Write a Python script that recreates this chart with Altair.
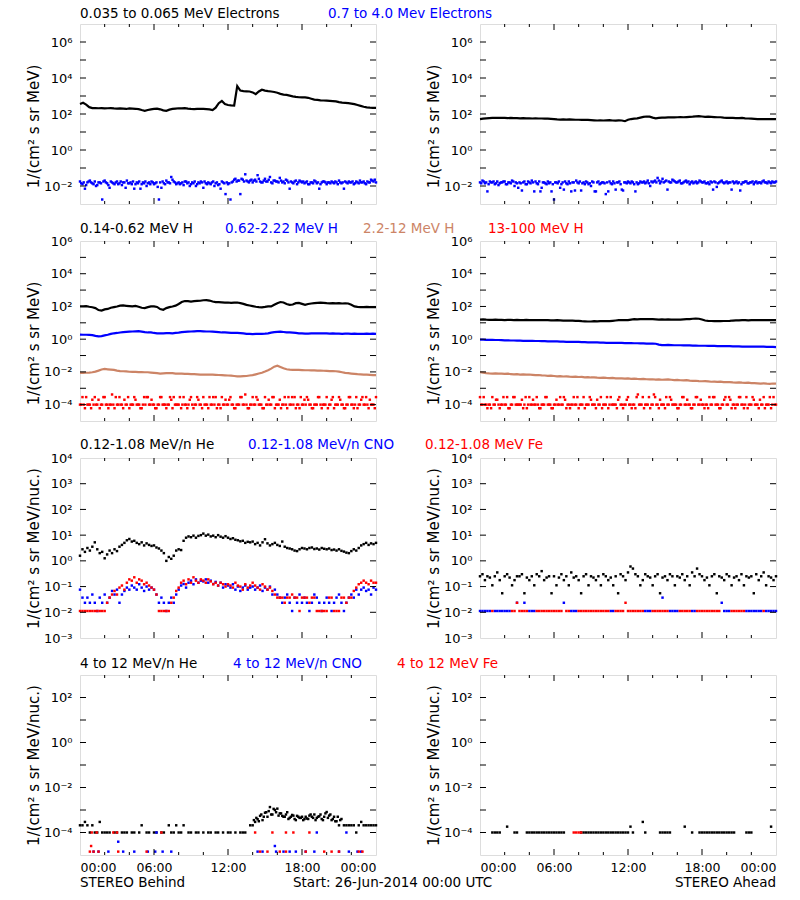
import altair as alt
import pandas as pd

FONT = "DejaVu Sans"
BLACK, BLUE, RED, BROWN = "#000000", "#0000FF", "#FF0000", "#CC8466"
W, H = 296, 180

T15 = [i * 0.25 for i in range(97)]
T20 = [round(i * 0.2, 2) for i in range(121)]
T20B = [round(0.1 + i * 0.2, 2) for i in range(120)]

# ---------------- Row 1 : electrons (log10 values) ----------------
A_black = [2.55, 2.62, 2.52, 2.38, 2.33, 2.33, 2.32, 2.33, 2.31, 2.32, 2.33, 2.31,
           2.3, 2.31, 2.3, 2.28, 2.31, 2.3, 2.29, 2.27, 2.22, 2.18, 2.22, 2.26,
           2.28, 2.3, 2.26, 2.2, 2.18, 2.24, 2.28, 2.3, 2.32, 2.31, 2.33, 2.3,
           2.28, 2.27, 2.28, 2.29, 2.28, 2.27, 2.26, 2.22, 2.35, 2.6, 2.72, 2.55,
           2.5, 2.48, 2.47, 3.55, 3.3, 3.27, 3.26, 3.25, 3.2, 3.1, 3.25, 3.35,
           3.3, 3.27, 3.25, 3.22, 3.18, 3.12, 3.08, 3.06, 3.02, 2.98, 2.95, 2.93,
           2.92, 2.92, 2.9, 2.85, 2.8, 2.78, 2.76, 2.75, 2.74, 2.73, 2.72, 2.7,
           2.66, 2.63, 2.62, 2.6, 2.58, 2.55, 2.5, 2.45, 2.4, 2.37, 2.35, 2.34, 2.34]
A_blue = [-1.75, -1.9, -2.15, -1.8, -1.7, -1.85, -1.75, -1.95, -1.8, -2.75,
          -1.7, -1.85, -2.1, -1.8, -1.9, -1.75, -1.85, -1.95, -1.8, -1.7,
          -1.85, -1.9, -2.15, -1.8, -1.75, -1.9, -1.85, -2.0, -1.8, -1.75,
          -1.9, -1.8, -2.75, -2.1, -1.85, -1.7, -1.8, -1.5, -1.75, -1.9,
          -1.8, -1.85, -1.95, -1.75, -1.8, -1.9, -1.85, -2.0, -1.8, -1.75,
          -2.1, -1.85, -1.8, -1.9, -1.75, -1.85, -1.95, -2.15, -1.8, -2.45,
          -1.9, -2.75, -1.75, -1.6, -1.7, -2.45, -1.65, -1.35, -1.75, -1.7,
          -1.8, -1.65, -1.4, -1.75, -1.8, -1.6, -1.75, -1.5, -1.85, -1.7,
          -1.75, -1.55, -1.8, -1.85, -1.7, -2.15, -1.8, -1.75, -1.9, -1.7,
          -1.8, -1.85, -1.75, -1.9, -1.8, -1.7, -1.85, -2.15, -1.8, -1.75,
          -1.9, -1.8, -1.75, -1.85, -1.8, -1.7, -1.85, -2.15, -1.8, -1.75,
          -1.8, -1.9, -1.75, -1.85, -1.8, -1.75, -1.9, -1.8, -1.65, -1.75, -1.8]
A_blue2 = [-1.85, -1.8, -1.95, -1.75, -1.8, -1.9, -2.0, -1.8, -1.85, -1.75,
           -1.8, -1.95, -1.75, -1.85, -1.8, -1.9, -1.75, -1.8, -2.1, -1.85,
           -1.8, -1.75, -1.9, -1.85, -2.15, -1.8, -1.75, -1.85, -1.9, -1.8,
           -1.85, -2.05, -1.8, -1.75, -1.9, -1.8, -1.85, -1.65, -1.8, -1.85,
           -1.9, -1.8, -1.75, -1.85, -2.0, -1.8, -1.75, -1.9, -1.85, -1.8,
           -1.75, -1.9, -1.85, -1.8, -2.0, -1.8, -1.9, -1.75, -1.85, -1.8,
           -1.85, -1.8, -1.65, -1.75, -1.7, -1.6, -1.75, -1.7, -1.8, -1.65,
           -1.7, -1.75, -1.6, -1.8, -1.7, -1.75, -1.65, -1.8, -1.7, -1.75,
           -1.8, -1.7, -1.75, -1.65, -1.8, -1.75, -1.85, -1.7, -1.8, -1.75,
           -1.75, -1.8, -1.9, -1.8, -1.85, -1.75, -1.8, -1.9, -1.75, -1.8,
           -1.8, -1.85, -1.8, -1.75, -1.9, -1.8, -1.8, -1.75, -1.85, -1.8,
           -1.75, -1.85, -1.8, -1.7, -1.8, -1.85, -1.75, -1.8, -1.7, -1.65]
B_black = [1.72, 1.74, 1.76, 1.77, 1.78, 1.79, 1.78, 1.79, 1.78, 1.77, 1.78, 1.77,
           1.77, 1.76, 1.77, 1.76, 1.76, 1.75, 1.76, 1.75, 1.75, 1.74, 1.74, 1.73,
           1.72, 1.7, 1.69, 1.7, 1.69, 1.7, 1.69, 1.68, 1.68, 1.67, 1.68, 1.67,
           1.66, 1.65, 1.64, 1.65, 1.64, 1.65, 1.66, 1.64, 1.63, 1.65, 1.64, 1.6,
           1.68, 1.72, 1.74, 1.76, 1.8, 1.84, 1.86, 1.85, 1.8, 1.76, 1.78, 1.8,
           1.8, 1.81, 1.82, 1.81, 1.82, 1.83, 1.82, 1.83, 1.84, 1.85, 1.87, 1.88,
           1.86, 1.84, 1.85, 1.84, 1.83, 1.82, 1.82, 1.8, 1.79, 1.78, 1.78, 1.77,
           1.77, 1.78, 1.76, 1.75, 1.74, 1.73, 1.72, 1.72, 1.71, 1.72, 1.71, 1.72, 1.71]
B_blue = [-1.8, -1.7, -1.85, -2.3, -1.75, -1.8, -1.9, -1.75, -1.85, -1.8,
          -1.75, -1.9, -1.8, -1.7, -2.0, -1.85, -1.8, -2.25, -1.75, -1.9,
          -1.8, -1.7, -2.3, -1.85, -1.75, -2.1, -1.8, -1.9, -1.85, -2.3,
          -2.75, -1.8, -1.75, -1.9, -2.2, -1.85, -1.75, -2.3, -1.8, -1.7,
          -1.85, -2.25, -1.8, -1.75, -1.9, -2.0, -1.8, -2.3, -1.75, -1.85,
          -1.8, -2.45, -2.3, -1.85, -1.75, -2.2, -1.8, -1.9, -2.25, -1.8,
          -1.75, -1.85, -1.8, -2.3, -1.9, -1.75, -1.8, -1.85, -1.7, -2.0,
          -1.8, -1.7, -1.55, -1.85, -1.6, -1.75, -2.2, -1.8, -1.65, -1.75,
          -1.8, -1.7, -1.85, -1.75, -1.8, -1.9, -1.75, -1.8, -1.85, -1.7,
          -1.8, -1.75, -1.85, -1.9, -1.8, -1.75, -2.05, -1.8, -1.7, -1.85,
          -1.75, -1.8, -2.2, -1.85, -1.75, -1.8, -1.9, -1.8, -1.75, -1.85,
          -1.8, -1.9, -1.75, -1.8, -1.85, -1.7, -1.8, -1.75, -1.85, -1.8, -1.75]
B_blue2 = [-1.85, -1.75, -1.8, -1.9, -1.8, -1.75, -1.85, -1.95, -1.8, -1.75,
           -1.9, -1.8, -1.85, -1.75, -1.8, -2.1, -1.85, -1.8, -1.9, -1.75,
           -1.85, -1.8, -1.75, -1.9, -2.3, -1.8, -1.85, -1.75, -1.8, -1.9,
           -1.8, -1.85, -2.1, -1.8, -1.75, -1.9, -1.85, -1.8, -2.25, -1.8,
           -1.75, -1.85, -1.9, -1.8, -1.85, -1.75, -2.3, -1.8, -1.9, -1.8,
           -1.85, -1.8, -1.75, -1.9, -1.85, -1.8, -1.75, -2.2, -1.8, -1.85,
           -1.8, -1.75, -1.9, -1.8, -1.85, -1.8, -1.75, -1.8, -1.85, -1.75,
           -1.75, -1.8, -1.7, -1.75, -1.8, -1.7, -1.75, -1.8, -1.7, -1.8,
           -1.75, -1.85, -1.8, -1.7, -1.75, -1.8, -1.85, -1.75, -1.8, -1.75,
           -1.8, -1.85, -1.8, -1.75, -2.2, -1.8, -1.85, -1.75, -1.8, -1.8,
           -1.85, -1.8, -1.75, -1.8, -1.85, -2.25, -1.8, -1.75, -1.85, -1.8,
           -1.75, -1.8, -1.85, -1.8, -1.75, -1.8, -1.85, -1.8, -1.75, -1.8]

# ---------------- Row 2 : protons ----------------
C_black = [2.0, 2.01, 2.02, 1.98, 1.95, 1.9, 1.78, 1.75, 1.82, 1.85, 1.92, 1.96,
           2.0, 2.05, 2.06, 2.04, 2.02, 2.0, 2.03, 1.98, 1.92, 1.9, 1.96, 2.0,
           2.0, 1.97, 1.84, 1.8, 1.9, 1.96, 2.0, 2.05, 2.15, 2.27, 2.33, 2.32,
           2.3, 2.32, 2.34, 2.35, 2.38, 2.39, 2.36, 2.3, 2.27, 2.26, 2.25, 2.24,
           2.24, 2.22, 2.23, 2.24, 2.2, 2.16, 2.1, 2.06, 2.02, 1.98, 1.96, 1.95,
           1.97, 2.0, 2.0, 2.1, 2.2, 2.27, 2.24, 2.15, 2.1, 2.12, 2.2, 2.22,
           2.16, 2.1, 2.15, 2.18, 2.2, 2.22, 2.23, 2.22, 2.2, 2.19, 2.2, 2.19,
           2.2, 2.18, 2.19, 2.18, 2.1, 2.0, 1.97, 1.96, 1.96, 1.97, 1.96, 1.96, 1.96]
C_blue = [0.28, 0.27, 0.27, 0.26, 0.25, 0.2, 0.17, 0.19, 0.23, 0.27, 0.32, 0.36,
          0.38, 0.41, 0.43, 0.45, 0.46, 0.47, 0.48, 0.49, 0.46, 0.43, 0.41, 0.41,
          0.38, 0.36, 0.35, 0.36, 0.37, 0.37, 0.36, 0.38, 0.4, 0.43, 0.45, 0.46,
          0.47, 0.48, 0.49, 0.49, 0.48, 0.47, 0.47, 0.46, 0.45, 0.43, 0.41, 0.41,
          0.4, 0.39, 0.39, 0.38, 0.37, 0.35, 0.33, 0.32, 0.31, 0.32, 0.33, 0.33,
          0.34, 0.36, 0.4, 0.43, 0.45, 0.46, 0.44, 0.42, 0.41, 0.4, 0.38, 0.36,
          0.35, 0.34, 0.34, 0.35, 0.35, 0.36, 0.35, 0.35, 0.35, 0.34, 0.35, 0.34,
          0.34, 0.33, 0.34, 0.34, 0.33, 0.34, 0.33, 0.33, 0.33, 0.34, 0.33, 0.34, 0.33]
C_brown = [-2.06, -2.06, -2.05, -2.04, -2.02, -1.98, -1.92, -1.85, -1.82, -1.84, -1.86, -1.88,
           -1.92, -1.95, -1.96, -1.97, -1.99, -2.0, -2.0, -2.01, -2.01, -2.02, -2.02, -2.04,
           -2.06, -2.08, -2.1, -2.09, -2.08, -2.07, -2.08, -2.1, -2.1, -2.11, -2.12, -2.12,
           -2.13, -2.14, -2.15, -2.16, -2.16, -2.17, -2.16, -2.17, -2.18, -2.19, -2.2, -2.21,
           -2.22, -2.23, -2.25, -2.27, -2.27, -2.26, -2.25, -2.22, -2.2, -2.15, -2.1, -2.05,
           -1.98, -1.9, -1.8, -1.68, -1.62, -1.7, -1.78, -1.84, -1.86, -1.87, -1.88, -1.88,
           -1.89, -1.9, -1.9, -1.91, -1.91, -1.92, -1.92, -1.93, -1.94, -1.95, -1.95, -1.96,
           -1.98, -2.02, -2.06, -2.08, -2.1, -2.12, -2.14, -2.15, -2.16, -2.17, -2.18, -2.2, -2.2]
C_red = [-4, -3.54, -4.22, -4, -4, -3.7, -3.54, -4, -4.22, -4,
         -3.54, -4, -4, -3.38, -4.22, -4, -3.54, -4, -3.7, -4,
         -4.22, -4, -3.54, -4, -4, -4.22, -3.54, -3.54, -4, -3.7,
         -4, -4.22, -4, -3.54, -4, -4.22, -4, -3.7, -3.54, -4,
         -4, -4.22, -3.54, -4, -4, -3.54, -4.22, -4, -3.7, -4,
         -3.54, -4, -4.22, -4, -3.54, -3.54, -4, -4.22, -4, -3.7,
         -4, -3.54, -4, -4.22, -4, -3.54, -4, -3.38, -4.22, -4,
         -3.54, -4, -3.7, -4, -4.22, -3.54, -4, -4, -3.54, -4.22,
         -4, -3.7, -4, -3.54, -4.22, -4, -3.54, -3.54, -4, -4.22,
         -4, -3.7, -3.54, -4, -4.22, -4, -4, -3.54, -4.22, -4,
         -3.54, -4, -3.7, -4.22, -4, -3.54, -4, -4.22, -4, -3.54,
         -4, -4.22, -3.54, -4, -3.7, -4, -3.54, -4.22, -4, -4, -3.54]
C_red2 = [-4, -4, -3.54, -4, -4.22, -4, -4, -3.7, -4, -3.54,
          -4, -4.22, -4, -4, -3.54, -4, -4, -4.22, -4, -3.54,
          -4, -4, -3.7, -4, -4.22, -4, -4, -3.54, -4, -4,
          -4.22, -4, -3.54, -4, -4, -4, -3.54, -4.22, -4, -4,
          -3.54, -4, -4, -4.22, -3.7, -4, -4, -3.54, -4, -4.22,
          -4, -4, -3.54, -4, -4, -4.22, -4, -3.54, -4, -4,
          -3.7, -4, -4.22, -4, -4, -3.54, -4, -4, -4.22, -4,
          -4, -3.54, -4, -4, -4.22, -4, -3.7, -4, -3.54, -4,
          -4, -4.22, -4, -4, -3.54, -4, -4, -4.22, -4, -3.54,
          -4, -4, -3.7, -4, -4.22, -4, -3.54, -4, -4, -4,
          -4.22, -4, -3.54, -4, -4, -3.7, -4, -4.22, -4, -3.54,
          -4, -4, -4.22, -4, -3.54, -4, -4, -3.7, -4, -4.22]
D_black = [1.2, 1.21, 1.19, 1.18, 1.18, 1.19, 1.18, 1.18, 1.17, 1.18, 1.18, 1.17,
           1.18, 1.17, 1.17, 1.18, 1.17, 1.16, 1.17, 1.16, 1.16, 1.17, 1.16, 1.15,
           1.15, 1.16, 1.15, 1.14, 1.14, 1.13, 1.13, 1.12, 1.12, 1.1, 1.09, 1.08,
           1.08, 1.1, 1.09, 1.1, 1.1, 1.11, 1.1, 1.12, 1.14, 1.16, 1.17, 1.16,
           1.17, 1.2, 1.22, 1.21, 1.22, 1.23, 1.22, 1.23, 1.22, 1.21, 1.2, 1.21,
           1.2, 1.21, 1.2, 1.2, 1.19, 1.2, 1.21, 1.22, 1.23, 1.25, 1.26, 1.25,
           1.2, 1.14, 1.12, 1.11, 1.1, 1.11, 1.1, 1.11, 1.11, 1.12, 1.14, 1.15,
           1.15, 1.16, 1.16, 1.15, 1.16, 1.16, 1.17, 1.16, 1.16, 1.17, 1.16, 1.17, 1.16]
D_blue = [-0.03, -0.03, -0.04, -0.04, -0.04, -0.05, -0.05, -0.06, -0.07, -0.07, -0.08, -0.08,
          -0.09, -0.09, -0.1, -0.1, -0.1, -0.1, -0.11, -0.11, -0.12, -0.12, -0.13, -0.13,
          -0.14, -0.14, -0.15, -0.15, -0.16, -0.16, -0.17, -0.17, -0.17, -0.18, -0.18, -0.19,
          -0.19, -0.2, -0.2, -0.21, -0.21, -0.22, -0.22, -0.22, -0.23, -0.23, -0.23, -0.24,
          -0.24, -0.24, -0.25, -0.25, -0.26, -0.26, -0.27, -0.27, -0.27, -0.28, -0.33, -0.36,
          -0.36, -0.35, -0.36, -0.37, -0.37, -0.37, -0.38, -0.38, -0.38, -0.39, -0.39, -0.4,
          -0.4, -0.4, -0.41, -0.41, -0.41, -0.42, -0.42, -0.42, -0.43, -0.43, -0.44, -0.44,
          -0.44, -0.45, -0.45, -0.45, -0.46, -0.45, -0.46, -0.46, -0.46, -0.47, -0.47, -0.47, -0.48]
D_brown = [-2.02, -2.04, -2.07, -2.09, -2.1, -2.09, -2.11, -2.1, -2.12, -2.11, -2.13, -2.15,
           -2.14, -2.16, -2.15, -2.17, -2.16, -2.18, -2.2, -2.19, -2.21, -2.22, -2.24, -2.23,
           -2.25, -2.27, -2.26, -2.28, -2.27, -2.29, -2.3, -2.29, -2.31, -2.3, -2.33, -2.32,
           -2.34, -2.33, -2.35, -2.36, -2.35, -2.37, -2.38, -2.37, -2.39, -2.4, -2.39, -2.41,
           -2.4, -2.42, -2.41, -2.43, -2.44, -2.43, -2.45, -2.46, -2.45, -2.47, -2.46, -2.48,
           -2.47, -2.46, -2.48, -2.5, -2.49, -2.51, -2.52, -2.5, -2.53, -2.55, -2.54, -2.56,
           -2.57, -2.56, -2.58, -2.6, -2.59, -2.61, -2.6, -2.62, -2.63, -2.62, -2.64, -2.65,
           -2.64, -2.66, -2.67, -2.66, -2.68, -2.69, -2.7, -2.71, -2.7, -2.72, -2.73, -2.71, -2.72]
D_red = [-3.54, -4, -4, -4.22, -4, -3.54, -4, -3.7, -4.22, -4,
         -4, -3.54, -4.22, -4, -3.54, -4, -4, -3.7, -4, -4.22,
         -3.54, -4, -4, -3.54, -4.22, -4, -4, -3.54, -4, -4.22,
         -4, -3.7, -4, -4, -3.54, -4.22, -4, -4, -3.54, -4,
         -4.22, -4, -3.54, -4, -4, -3.7, -4, -4.22, -4, -3.54,
         -4, -4, -4.22, -3.54, -4, -4, -3.7, -4, -4.22, -4,
         -3.54, -4, -4, -4.22, -3.38, -4, -3.54, -4, -4, -4.22,
         -4, -3.54, -4, -3.7, -4, -4.22, -4, -3.54, -4, -4,
         -4.22, -4, -3.54, -4, -3.7, -4, -4.22, -4, -3.54, -4,
         -4, -4.22, -4, -3.54, -4, -3.54, -4, -4.22, -4, -3.7,
         -4, -3.54, -4.22, -4, -4, -3.54, -4, -4.22, -3.54, -4,
         -4, -3.7, -4, -4.22, -4, -3.54, -4, -4, -4.22, -3.54, -4]
D_red2 = [-4, -3.54, -4, -4, -4.22, -4, -3.7, -4, -4, -3.54,
          -4, -4.22, -4, -3.54, -4, -4, -4, -4.22, -3.54, -4,
          -4, -3.7, -4, -4, -4.22, -4, -3.54, -4, -4, -4.22,
          -4, -4, -3.54, -4, -3.7, -4, -4.22, -4, -4, -3.54,
          -4, -4, -4.22, -4, -3.54, -4, -4, -3.7, -4, -4.22,
          -4, -3.54, -4, -4, -4, -4.22, -3.54, -4, -4, -3.7,
          -4, -4.22, -4, -3.54, -4, -4, -4.22, -4, -3.54, -4,
          -3.38, -4, -4.22, -4, -4, -3.54, -4, -3.7, -4, -4,
          -4.22, -4, -3.54, -4, -4, -4.22, -4, -3.54, -4, -3.7,
          -4, -4, -4.22, -4, -3.54, -4, -4, -4.22, -4, -3.54,
          -4, -3.7, -4, -4.22, -4, -3.54, -4, -4, -4.22, -4,
          -3.54, -4, -4, -3.7, -4, -4.22, -4, -3.54, -4, -4]

# ---------------- Row 3 : 0.12-1.08 MeV/n heavy ions ----------------
E_black = [0.2, 0.45, 0.35, 0.5, 0.4, 0.55, 0.72, 0.45, 0.3, 0.35,
           0.1, 0.25, 0.4, 0.3, 0.45, 0.38, 0.55, 0.62, 0.7, 0.8,
           0.85, 0.75, 0.78, 0.7, 0.65, 0.72, 0.6, 0.68, 0.62, 0.58,
           0.6, 0.52, 0.48, 0.4, 0.3, 0.0, 0.15, 0.08, 0.2, 0.4,
           0.45, 0.42, 0.78, 0.9, 0.95, 0.92, 0.98, 0.9, 0.97, 1.0,
           1.06, 0.98, 1.02, 0.95, 0.98, 0.92, 1.0, 0.94, 0.9, 0.96,
           0.9, 0.85, 0.88, 0.82, 0.8, 0.76, 0.78, 0.7, 0.74, 0.72,
           0.75, 0.65, 0.7, 0.6, 0.72, 0.84, 0.68, 0.6, 0.65, 0.7,
           0.62, 0.58, 0.75, 0.55, 0.5, 0.48, 0.45, 0.4, 0.38, 0.45,
           0.5, 0.48, 0.45, 0.5, 0.52, 0.46, 0.48, 0.44, 0.5, 0.47,
           0.45, 0.48, 0.42, 0.44, 0.4, 0.45, 0.39, 0.36, 0.32, 0.3,
           0.38, 0.45, 0.4, 0.5, 0.6, 0.65, 0.7, 0.62, 0.68, 0.65, 0.7]
E_blue = [-1.12, -1.43, -1.63, -1.43, -1.63, -1.31, -1.63, -1.95, -1.43, -1.63,
          -1.31, -1.63, -1.43, -1.17, -1.31, -1.12, -1.63, -1.31, -1.17, -1.04,
          -1.12, -0.96, -1.04, -1.12, -0.91, -1.04, -1.17, -1.0, -1.12, -1.04,
          -1.12, -1.31, -1.63, -1.43, -1.63, -1.95, -1.63, -1.43, -1.63, -1.31,
          -1.12, -0.96, -0.9, -1.04, -0.85, -0.77, -0.91, -0.72, -0.85, -0.77,
          -0.8, -0.72, -0.85, -0.77, -0.9, -0.82, -0.96, -0.85, -1.04, -0.91,
          -0.96, -1.04, -0.91, -1.12, -1.0, -1.17, -1.04, -0.96, -1.12, -1.04,
          -1.0, -1.12, -1.04, -0.96, -1.17, -1.04, -1.12, -1.0, -1.31, -1.12,
          -1.31, -1.43, -1.63, -1.43, -1.31, -1.63, -1.95, -1.43, -1.63, -1.31,
          -1.63, -1.43, -1.63, -1.95, -1.63, -1.31, -1.43, -1.63, -1.95, -1.63,
          -1.43, -1.63, -1.95, -1.63, -1.43, -1.31, -1.63, -1.95, -1.63, -1.43,
          -1.31, -1.43, -1.12, -1.31, -1.12, -1.04, -1.17, -1.12, -1.31, -1.04, -1.12]
E_red = [-1.95, -1.95, -1.95, -1.95, -1.95, -1.95, -1.95, -1.95, -1.95, -1.95,
         -1.95, -1.63, -1.43, -1.31, -1.17, -1.31, -1.04, -0.96, -1.12, -0.85,
         -0.72, -0.77, -0.64, -0.85, -0.72, -0.77, -0.91, -0.85, -0.96, -1.04,
         -1.12, -1.31, -1.95, -1.95, -1.95, -1.95, -1.95, -1.63, -1.43, -1.17,
         -1.04, -0.85, -0.77, -0.91, -0.72, -0.85, -0.64, -0.77, -0.85, -0.72,
         -0.77, -0.85, -0.72, -0.8, -0.91, -0.85, -0.96, -0.85, -0.91, -1.0,
         -0.91, -0.96, -1.04, -0.85, -0.96, -1.0, -1.12, -0.91, -1.04, -0.96,
         -0.85, -0.96, -1.04, -1.12, -0.91, -1.0, -1.12, -1.04, -1.17, -1.31,
         -1.43, -1.43, -1.43, -1.63, -1.43, -1.43, -1.31, -1.43, -1.43, -1.95,
         -1.43, -1.43, -1.43, -1.63, -1.43, -1.43, -1.95, -1.95, -1.95, -1.95,
         -1.95, -1.43, -1.43, -1.95, -1.95, -1.95, -1.43, -1.43, -1.63, -1.43,
         -1.43, -1.17, -1.04, -0.91, -0.85, -0.77, -0.85, -0.91, -0.77, -0.85, -0.85]
F_black = [-0.6, -0.52, -0.75, -0.6, -0.65, -0.95, -0.6, -0.45, -0.75, -1.26,
           -0.6, -0.52, -0.65, -0.95, -0.75, -0.6, -0.6, -0.52, -1.26, -0.65,
           -0.75, -0.6, -0.95, -0.52, -0.6, -0.4, -0.75, -0.65, -0.6, -1.26,
           -0.6, -0.95, -0.65, -0.52, -0.75, -0.6, -0.95, -0.45, -0.65, -0.6,
           -0.75, -1.26, -0.6, -0.52, -0.95, -0.6, -0.65, -0.75, -0.6, -0.95,
           -0.52, -0.6, -0.75, -0.65, -0.95, -0.6, -1.26, -0.52, -0.6, -0.75,
           -0.45, -0.22, -0.3, -0.52, -0.6, -0.95, -0.75, -0.52, -0.6, -0.65,
           -0.95, -0.6, -0.52, -1.26, -0.65, -0.6, -0.75, -0.52, -0.6, -0.95,
           -0.6, -0.65, -0.52, -0.75, -0.6, -0.95, -0.45, -0.6, -0.3, -0.52,
           -0.6, -0.75, -0.65, -0.95, -0.6, -0.52, -1.26, -0.6, -0.65, -0.75,
           -0.52, -0.6, -0.95, -0.65, -0.6, -0.75, -0.52, -0.95, -0.6, -0.65,
           -0.6, -1.26, -0.52, -0.75, -0.6, -0.45, -0.95, -0.6, -0.65, -0.75, -0.6]
N = None
F_blue = [-1.95, -1.95, -1.95, -1.95, -1.95, N, -1.95, -1.95, -1.95, -1.95,
          -1.95, -1.95, -1.95, N, N, -1.63, N, N, -1.63, N,
          -1.95, -1.95, -1.95, N, N, N, N, N, N, N,
          N, N, N, N, -1.63, N, N, -1.95, -1.95, -1.95,
          N, N, N, N, N, N, N, N, N, N,
          N, N, N, -1.95, -1.95, N, N, N, N, N,
          N, N, N, N, N, N, N, -1.95, -1.95, -1.95,
          N, N, N, N, -1.43, N, N, -1.95, -1.95, -1.95,
          -1.95, N, N, N, N, N, -1.95, -1.95, N, N,
          N, N, N, N, N, N, N, N, -1.63, -1.95,
          -1.95, -1.95, N, N, N, N, N, N, -1.95, -1.95,
          -1.95, -1.95, -1.95, -1.95, -1.95, N, -1.95, -1.95, -1.95, -1.95, -1.95]
F_red = [N, N, N, N, N, -1.95, N, N, N, N,
         N, N, N, -1.95, -1.95, -1.63, -1.95, -1.95, -1.95, -1.95,
         N, N, N, -1.95, -1.95, -1.95, -1.95, -1.95, -1.95, -1.95,
         -1.95, -1.95, -1.95, -1.95, N, -1.95, -1.95, N, N, N,
         -1.95, -1.95, -1.95, -1.95, -1.95, -1.95, -1.95, -1.95, -1.95, -1.95,
         -1.95, -1.95, -1.95, N, N, -1.95, -1.95, -1.95, -1.95, -1.63,
         -1.95, -1.95, -1.95, -1.95, -1.95, -1.95, -1.95, N, N, N,
         -1.95, -1.95, -1.95, -1.95, -1.95, -1.95, -1.95, N, N, N,
         N, -1.95, -1.95, -1.95, -1.95, -1.95, N, N, -1.95, -1.95,
         -1.95, -1.95, -1.95, -1.95, -1.95, -1.95, -1.95, -1.95, N, N,
         N, N, -1.95, -1.95, -1.95, -1.95, -1.95, -1.95, N, N,
         N, N, N, N, N, -1.95, N, N, N, N, N]

# ---------------- Row 4 : 4-12 MeV/n heavy ions ----------------
G_black = [-3.68, -3.68, -3.53, -3.68, -4, -3.68, -4, -4, -3.53, -4,
           -4, -4, -4, N, -4, -4, N, -4, -4, -4,
           N, -4, -4, N, -4, -3.68, N, -4, -4, N,
           -4, -4, N, -4, -4, N, -3.68, -4, -4, -3.68,
           -4, -4, -3.68, N, -4, -4, N, -4, -4, N,
           -4, N, -4, -4, N, -4, -4, N, -4, N,
           -4, -4, N, -4, N, -4, -4, -4, N, -3.68,
           -3.68, -3.53, -3.41, -3.26, -3.45, -3.12, -3.3, -2.87, -3.2, -3.0,
           -2.94, -3.15, -3.26, -3.3, -3.1, -3.35, -3.22, -3.4, -3.26, -3.35,
           -3.3, -3.4, -3.38, -3.25, -3.3, -3.2, -3.35, -3.28, -3.4, -3.3,
           -3.09, -3.25, -3.45, -3.3, -3.5, -3.68, -3.4, -3.68, -3.68, -3.68,
           -3.68, -3.68, -4, -3.68, -3.53, -3.68, -3.68, -3.68, -3.68, -3.68, -3.68]
G_black2_t = [14.1, 14.3, 14.5, 14.7, 14.9, 15.1, 15.3, 15.5, 15.7, 15.9, 16.1, 16.3,
              16.5, 16.7, 16.9, 17.1, 17.3, 17.5, 17.7, 17.9, 18.1, 18.3, 18.5, 18.7,
              18.9, 19.1, 19.3, 19.5, 19.7, 19.9, 20.1, 20.3, 20.5, 20.7, 20.9, 21.1]
G_black2 = [-3.45, -3.35, -3.5, -3.2, -3.3, -3.1, -3.05, -3.2, -2.95, -3.1, -3.25, -3.15,
            -3.3, -3.2, -3.4, -3.3, -3.25, -3.45, -3.3, -3.35, -3.45, -3.3, -3.4, -3.2,
            -3.35, -3.45, -3.3, -3.2, -3.45, -3.15, -3.35, -3.2, -3.4, -3.5, -3.3, -3.45]
G_red_t = [0.95, 1.35, 2.7, 3.0, 6.6, 14.2, 15.6, 16.7, 17.3, 18.6, 0.9,
           0.8, 1.1, 1.5, 3.1, 5.4, 14.6, 15.2, 16.2, 16.7, 18.3, 19.8, 20.4, 21.0, 22.6, 22.9]
G_red = [-4, -4, -4, -4, -4, -4, -4, -4, -4, -4, -4.6,
         -4.85, -4.85, -4.85, -4.85, -4.85, -4.85, -4.85, -4.85, -4.85, -4.85, -4.85, -4.85,
         -4.85, -4.85, -4.85]
G_blue_t = [6.2, 19.2, 21.6, 3.1, 15.8,
            1.1, 1.5, 2.3, 3.5, 4.4, 5.5, 6.1, 6.7, 7.4, 14.4, 14.8, 15.9, 16.5,
            17.0, 17.5, 18.3, 19.0, 21.0, 21.8, 22.5, 22.8]
G_blue = [-4, -4, -4, -4.41, -4.6,
          -4.85, -4.85, -4.85, -4.85, -4.85, -4.85, -4.85, -4.85, -4.85, -4.85, -4.85, -4.85,
          -4.85, -4.85, -4.85, -4.85, -4.85, -4.85, -4.85, -4.85, -4.85]
H_black = [N, N, N, N, N, -4, -4, -4, -4, N,
           N, -3.74, N, N, -4, -4, N, N, N, -4,
           -4, -4, -4, -4, -4, -4, -4, -4, -4, -4,
           -4, -4, -4, -4, -4, N, N, N, N, N,
           N, -4, -4, -4, -4, -4, -4, -4, -4, -4,
           -4, -4, -4, -4, -4, -4, -4, -4, -4, -4,
           -4, -3.74, -4, N, N, N, -3.53, -4, N, N,
           N, N, N, -4, -4, -4, -4, -4, N, N,
           N, N, N, -3.74, N, N, -4, N, N, -4,
           -4, -4, -4, -4, -4, -4, -4, -4, -4, -4,
           -4, -4, -4, -4, N, N, N, N, -4, -4,
           -4, N, N, N, N, N, N, N, -3.74, N, N]
H_red_t = [7.6, 7.8, 8.0, 8.2]
H_red = [-4, -4, -4, -4]

# ---------------- labels ----------------
ROW_TITLES = [
    [("0.035 to 0.065 MeV Electrons", BLACK, 0), ("0.7 to 4.0 Mev Electrons", BLUE, 248)],
    [("0.14-0.62 MeV H", BLACK, 0), ("0.62-2.22 MeV H", BLUE, 145),
     ("2.2-12 MeV H", BROWN, 283), ("13-100 MeV H", RED, 408)],
    [("0.12-1.08 MeV/n He", BLACK, 0), ("0.12-1.08 MeV/n CNO", BLUE, 168),
     ("0.12-1.08 MeV Fe", RED, 345)],
    [("4 to 12 MeV/n He", BLACK, 0), ("4 to 12 MeV/n CNO", BLUE, 153),
     ("4 to 12 MeV Fe", RED, 317)],
]
TITLE_DY = [-10, -12, -13, -11]
YTITLE_A = "1/(cm² s sr MeV)"
YTITLE_B = "1/(cm² s sr MeV/nuc.)"
X_LABELS = ["00:00", "06:00", "12:00", "18:00", "00:00"]
X_TICKS = [0, 6, 12, 18, 24]

SUP = {"-": "⁻", "0": "⁰", "1": "¹", "2": "²", "3": "³", "4": "⁴",
       "5": "⁵", "6": "⁶", "7": "⁷", "8": "⁸", "9": "⁹"}


def sup10(e):
    return "10" + "".join(SUP[c] for c in str(e))


def df(t, logv):
    d = pd.DataFrame({"t": t, "lv": logv}).dropna()
    d["v"] = 10 ** d["lv"].astype(float)
    return d


def panel(ydom, label_exps, ytitle, tshift, series, texts, tdy, bottom, bottom_texts):
    xs = alt.Scale(domain=[0, 24], nice=False, zero=False)
    ys = alt.Scale(type="log", domain=[10.0 ** ydom[0], 10.0 ** ydom[1]], nice=False)
    xlab = " : ".join(f"datum.value == {v} ? '{s}'" for v, s in zip(X_TICKS, X_LABELS)) + " : ''"
    xaxis = alt.Axis(values=X_TICKS, labels=bottom, labelExpr=xlab, ticks=False, domain=False,
                     grid=False, title=None, labelFontSize=12.5, labelFont=FONT,
                     labelColor="black", labelPadding=6)
    ylab = " : ".join(f"abs(log(datum.value)/LN10 - ({e})) < 0.01 ? '{sup10(e)}'"
                      for e in label_exps) + " : ''"
    yaxis = alt.Axis(values=[10.0 ** e for e in label_exps], labelExpr=ylab, ticks=False,
                     domain=False, grid=False, title=ytitle, titleFontSize=15,
                     titleFontWeight="normal", titleFont=FONT, titleColor="black",
                     titleX=-47, titleY=H / 2 + tshift, titleBaseline="middle",
                     titleAlign="center", titleAngle=270,
                     labelFontSize=13, labelFont=FONT, labelColor="black", labelPadding=8)
    X = alt.X("t:Q", scale=xs, axis=xaxis)
    Y = alt.Y("v:Q", scale=ys, axis=yaxis)
    layers = []
    for d, kind, color in series:
        c = alt.Chart(d)
        if kind == "line":
            m = c.mark_line(color=color, strokeWidth=2.2)
        else:
            m = c.mark_square(color=color, size=6, opacity=1)
        layers.append(m.encode(x=X, y=Y))
    # inward ticks
    yt = pd.DataFrame({"v": [10.0 ** e for e in range(ydom[0] + 1, ydom[1])]})
    layers.append(alt.Chart(yt).mark_rule(color="black").encode(
        y=Y, x=alt.value(0), x2=alt.value(6)))
    layers.append(alt.Chart(yt).mark_rule(color="black").encode(
        y=Y, x=alt.value(W - 6), x2=alt.value(W)))
    xminor = pd.DataFrame({"t": [2, 4, 8, 10, 14, 16, 20, 22]})
    xmajor = pd.DataFrame({"t": [6, 12, 18]})
    for tdf, ln in ((xminor, 3), (xmajor, 6)):
        layers.append(alt.Chart(tdf).mark_rule(color="black").encode(
            x=X, y=alt.value(H), y2=alt.value(H - ln)))
        layers.append(alt.Chart(tdf).mark_rule(color="black").encode(
            x=X, y=alt.value(0), y2=alt.value(ln)))
    one = pd.DataFrame({"a": [0]})
    for s, col, px in texts:
        layers.append(alt.Chart(one).mark_text(
            align="left", baseline="middle", font=FONT, fontSize=13.5, color=col).encode(
            x=alt.value(px), y=alt.value(tdy), text=alt.value(s)))
    for s, px, al in bottom_texts:
        layers.append(alt.Chart(one).mark_text(
            align=al, baseline="middle", font=FONT, fontSize=13.5, color="black").encode(
            x=alt.value(px), y=alt.value(H + 28), text=alt.value(s)))
    return alt.layer(*layers).properties(width=W, height=H)


r1 = [(-3, 7), [-2, 0, 2, 4, 6], YTITLE_A, 12]
r2 = [(-5, 6), [-4, -2, 0, 2, 4, 6], YTITLE_A, 12]
r3 = [(-3, 4), [-3, -2, -1, 0, 1, 2, 3, 4], YTITLE_B, 0]
r4 = [(-5, 3), [-4, -2, 0, 2], YTITLE_B, 0]

pA = panel(*r1, [(df(T15, A_black), "line", BLACK), (df(T20, A_blue), "pt", BLUE),
                 (df(T20B, A_blue2), "pt", BLUE)],
           ROW_TITLES[0], TITLE_DY[0], False, [])
pB = panel(*r1, [(df(T15, B_black), "line", BLACK), (df(T20, B_blue), "pt", BLUE),
                 (df(T20B, B_blue2), "pt", BLUE)],
           [], 0, False, [])
pC = panel(*r2, [(df(T15, C_black), "line", BLACK), (df(T15, C_blue), "line", BLUE),
                 (df(T15, C_brown), "line", BROWN), (df(T20, C_red), "pt", RED),
                 (df(T20B, C_red2), "pt", RED)],
           ROW_TITLES[1], TITLE_DY[1], False, [])
pD = panel(*r2, [(df(T15, D_black), "line", BLACK), (df(T15, D_blue), "line", BLUE),
                 (df(T15, D_brown), "line", BROWN), (df(T20, D_red), "pt", RED),
                 (df(T20B, D_red2), "pt", RED)],
           [], 0, False, [])
pE = panel(*r3, [(df(T20, E_black), "pt", BLACK), (df(T20, E_blue), "pt", BLUE),
                 (df(T20, E_red), "pt", RED)],
           ROW_TITLES[2], TITLE_DY[2], False, [])
pF = panel(*r3, [(df(T20, F_black), "pt", BLACK), (df(T20, F_blue), "pt", BLUE),
                 (df(T20, F_red), "pt", RED)],
           [], 0, False, [])
pG = panel(*r4, [(df(T20, G_black), "pt", BLACK), (df(G_black2_t, G_black2), "pt", BLACK),
                 (df(G_blue_t, G_blue), "pt", BLUE), (df(G_red_t, G_red), "pt", RED)],
           ROW_TITLES[3], TITLE_DY[3], True,
           [("STEREO Behind", 0, "left"), ("Start: 26-Jun-2014 00:00 UTC", 213, "left")])
pH = panel(*r4, [(df(T20, H_black), "pt", BLACK), (df(H_red_t, H_red), "pt", RED)],
           [], 0, True, [("STEREO Ahead", W, "right")])

chart = alt.concat(pA, pB, pC, pD, pE, pF, pG, pH, columns=2,
                   spacing={"row": 37, "column": 104}, bounds="flush").properties(
    padding={"left": 25, "top": 6, "right": 5, "bottom": 5},
    background="white",
).configure_view(stroke="black", strokeWidth=1).configure(font=FONT)

chart.save("out.html", embed_options={"renderer": "svg", "actions": False})
